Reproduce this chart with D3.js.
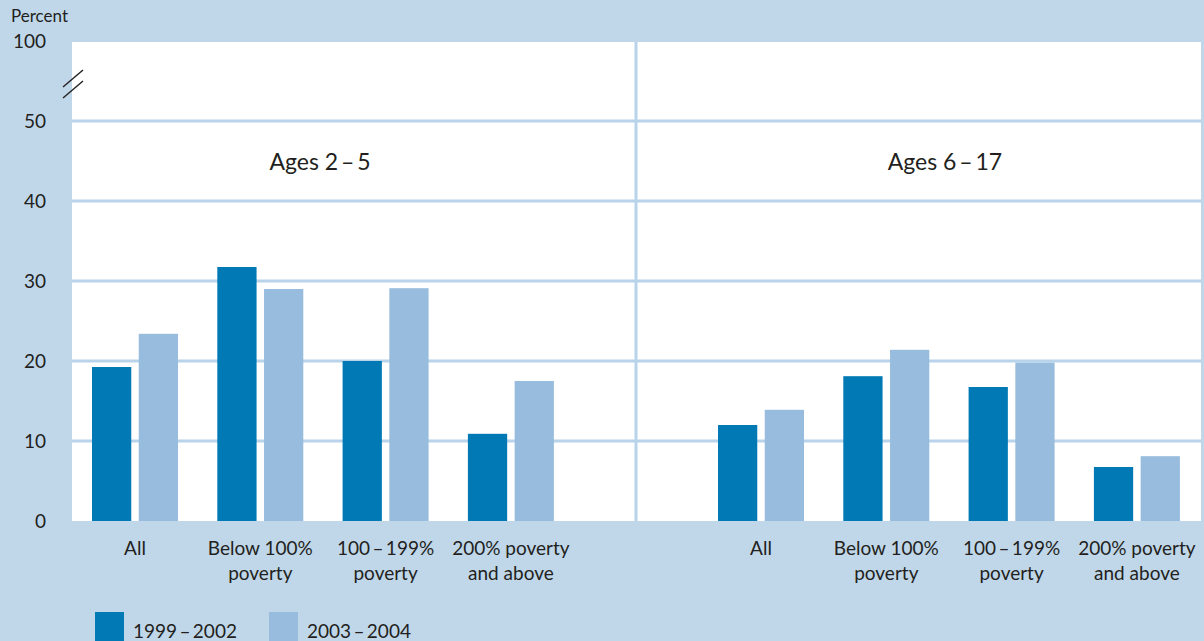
<!DOCTYPE html>
<html>
<head>
<meta charset="utf-8">
<script src="https://cdn.jsdelivr.net/npm/d3@7"></script>
<style>
  body { margin: 0; background: #c0d7ea; }
  svg text { font-family: Lato, "DejaVu Sans", sans-serif; fill: #231f20; }
</style>
</head>
<body>
<div id="chart"></div>
<script>
// data
const panels = ['Ages 2\u2009\u2013\u20095', 'Ages 6\u2009\u2013\u200917'];
const categories = ['All', 'Below 100%|poverty', '100\u2009\u2013\u2009199%|poverty', '200% poverty|and above'];
const seriesNames = ['1999\u20132002', '2003\u20132004'];
const ages2to5 = [[19.25, 23.4], [31.75, 29.0], [20.0, 29.1], [10.9, 17.5]];
const ages6to17 = [[12.0, 13.9], [18.1, 21.4], [16.75, 19.8], [6.75, 8.1]];
const yTicks = [0, 10, 20, 30, 40, 50];

const width = 1204;
const height = 641;
const colors = { dark: '#0079b4', light: '#97bcdd', grid: '#b8d3ea', bg: '#c0d7ea' };
const plot = { left: 72, right: 1201, top: 42, bottom: 521 };
const divider = 636;

const svg = d3.select('#chart')
  .append('svg')
  .attr('width', width)
  .attr('height', height);

svg.append('rect')
  .attr('width', width)
  .attr('height', height)
  .attr('fill', colors.bg);

svg.append('rect')
  .attr('x', plot.left)
  .attr('y', plot.top)
  .attr('width', plot.right - plot.left)
  .attr('height', plot.bottom - plot.top)
  .attr('fill', '#fff');

const y = d3.scaleLinear()
  .domain([0, 50])
  .range([plot.bottom, 121]);

// gridlines
svg.append('g')
  .selectAll('line')
  .data(yTicks.filter(d => d > 0))
  .enter()
  .append('line')
  .attr('x1', plot.left)
  .attr('x2', plot.right)
  .attr('y1', d => y(d))
  .attr('y2', d => y(d))
  .attr('stroke', colors.grid)
  .attr('stroke-width', 3);

svg.append('line')
  .attr('x1', divider)
  .attr('x2', divider)
  .attr('y1', plot.top)
  .attr('y2', plot.bottom)
  .attr('stroke', colors.grid)
  .attr('stroke-width', 3);

// y labels
svg.append('g')
  .selectAll('text')
  .data(yTicks)
  .enter()
  .append('text')
  .attr('x', 46)
  .attr('y', d => y(d))
  .attr('dy', '0.35em')
  .attr('text-anchor', 'end')
  .attr('font-size', 19)
  .text(d => d);

svg.append('text')
  .attr('x', 46)
  .attr('y', 41)
  .attr('dy', '0.35em')
  .attr('text-anchor', 'end')
  .attr('font-size', 19)
  .text('100');

svg.append('text')
  .attr('x', 11)
  .attr('y', 16)
  .attr('dy', '0.35em')
  .attr('font-size', 17)
  .text('Percent');

// axis break
[0, 11].forEach(off => {
  svg.append('line')
    .attr('x1', 63).attr('y1', 87 + off)
    .attr('x2', 83).attr('y2', 70 + off)
    .attr('stroke', '#231f20')
    .attr('stroke-width', 1.4);
});

const inner = d3.scaleBand()
  .domain(seriesNames)
  .range([0, 86])
  .paddingInner(0.16)
  .paddingOuter(0);

// first group's left edge in each panel
const panelStarts = [92, 718];
const groupStep = 125.3;
const groupWidth = 86;

const drawPanel = (values, start, title, titleX) => {
  const x = d3.scaleBand()
    .domain(categories)
    .range([start, start + 3 * groupStep + groupWidth])
    .paddingInner(1 - groupWidth / groupStep)
    .paddingOuter(0);

  const g = svg.append('g');

  const groups = g.selectAll('.group')
    .data(categories)
    .enter()
    .append('g')
    .attr('class', 'group')
    .attr('transform', d => `translate(${x(d)},0)`);

  groups.selectAll('rect')
    .data((d, i) => values[i].map((v, j) => ({ v, s: seriesNames[j] })))
    .enter()
    .append('rect')
    .attr('x', d => inner(d.s))
    .attr('width', inner.bandwidth())
    .attr('y', d => y(d.v))
    .attr('height', d => y(0) - y(d.v))
    .attr('fill', (d, j) => j === 0 ? colors.dark : colors.light);

  groups.each(function (d) {
    const lines = d.split('|');
    d3.select(this).selectAll('text')
      .data(lines)
      .enter()
      .append('text')
      .attr('x', x.bandwidth() / 2)
      .attr('y', (l, k) => 555 + k * 25)
      .attr('text-anchor', 'middle')
      .attr('font-size', 19)
      .text(l => l);
  });

  g.append('text')
    .attr('x', titleX)
    .attr('y', 162)
    .attr('dy', '0.35em')
    .attr('text-anchor', 'middle')
    .attr('font-size', 23)
    .text(title);
};

drawPanel(ages2to5, panelStarts[0], panels[0], 320);
drawPanel(ages6to17, panelStarts[1], panels[1], 945);

// legend
const legend = svg.append('g');
const legendX = [95, 269];
seriesNames.forEach((name, i) => {
  legend.append('rect')
    .attr('x', legendX[i])
    .attr('y', 612)
    .attr('width', 29)
    .attr('height', 30)
    .attr('fill', i === 0 ? colors.dark : colors.light);
  legend.append('text')
    .attr('x', legendX[i] + 38)
    .attr('y', 631)
    .attr('dy', '0.35em')
    .attr('font-size', 19)
    .text(name.replace('\u2013', '\u2009\u2013\u2009'));
});
</script>
</body>
</html>
